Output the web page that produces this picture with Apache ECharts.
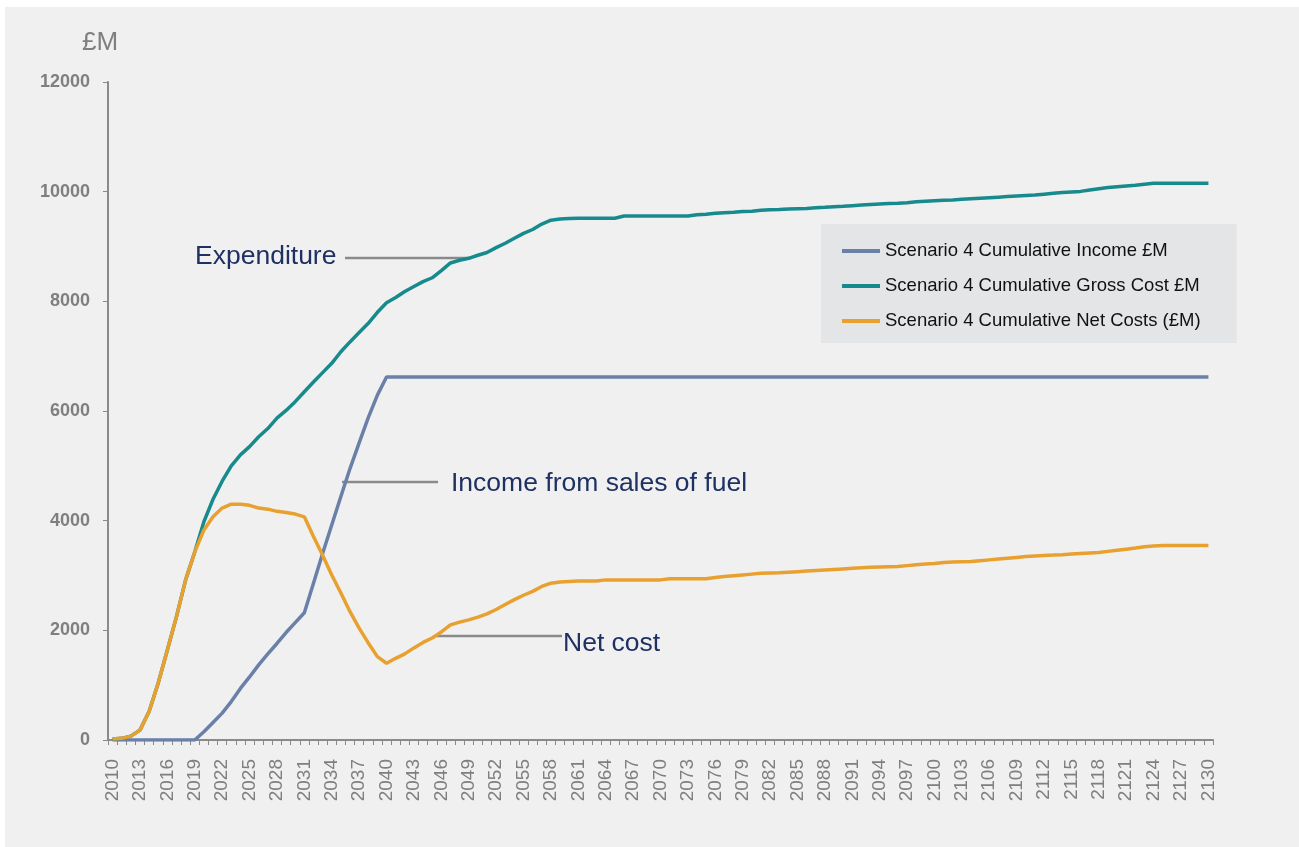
<!DOCTYPE html>
<html>
<head>
<meta charset="utf-8">
<script src="https://cdn.jsdelivr.net/npm/echarts@6/dist/echarts.min.js"></script>
<style>
html,body{margin:0;padding:0;background:#ffffff;width:1299px;height:847px;overflow:hidden;}
#chart{position:absolute;left:5px;top:7px;width:1294px;height:840px;background:#f0f0f0;}
</style>
</head>
<body>
<div id="chart"></div>
<script>
var firstYear = 2010, lastYear = 2130;
var years = [];
for (var y = firstYear; y <= lastYear; y++) years.push(String(y));

var yTicks = [0, 2000, 4000, 6000, 8000, 10000, 12000];

var seriesNames = [
  'Scenario 4 Cumulative Income £M',
  'Scenario 4 Cumulative Gross Cost £M',
  'Scenario 4 Cumulative Net Costs (£M)'
];

var income = [
  0,0,0,0,0,0,0,0,0,0,
  150,320,490,700,940,1150,1370,1570,1760,1960,
  2140,2320,2860,3400,3920,4440,4950,5420,5880,6290,
  6620,6620,6620,6620,6620,6620,6620,6620,6620,6620,
  6620,6620,6620,6620,6620,6620,6620,6620,6620,6620,
  6620,6620,6620,6620,6620,6620,6620,6620,6620,6620,
  6620,6620,6620,6620,6620,6620,6620,6620,6620,6620,
  6620,6620,6620,6620,6620,6620,6620,6620,6620,6620,
  6620,6620,6620,6620,6620,6620,6620,6620,6620,6620,
  6620,6620,6620,6620,6620,6620,6620,6620,6620,6620,
  6620,6620,6620,6620,6620,6620,6620,6620,6620,6620,
  6620,6620,6620,6620,6620,6620,6620,6620,6620,6620,
  6620
];

var grossCost = [
  20,30,70,180,520,1040,1640,2250,2920,3430,
  3980,4390,4720,5000,5200,5350,5530,5680,5870,6010,
  6170,6350,6530,6700,6870,7080,7260,7430,7600,7800,
  7975,8070,8180,8270,8360,8430,8560,8700,8750,8785,
  8840,8890,8980,9060,9150,9240,9310,9410,9480,9500,
  9510,9515,9515,9515,9515,9515,9555,9555,9555,9555,
  9555,9555,9555,9555,9580,9590,9605,9615,9625,9640,
  9645,9660,9670,9675,9685,9690,9695,9705,9715,9726,
  9735,9745,9755,9765,9775,9785,9790,9800,9815,9825,
  9835,9845,9850,9860,9870,9880,9890,9900,9910,9920,
  9930,9940,9955,9970,9985,9995,10005,10030,10055,10075,
  10090,10105,10115,10135,10153,10153,10153,10153,10153,10153,
  10153
];

var netCost = [
  20,30,70,180,520,1040,1640,2250,2920,3430,
  3830,4070,4230,4300,4300,4280,4230,4210,4170,4150,
  4120,4070,3710,3370,3010,2680,2340,2040,1770,1520,
  1400,1490,1570,1680,1780,1860,1970,2100,2150,2190,
  2240,2300,2380,2470,2560,2640,2710,2800,2860,2880,
  2890,2900,2900,2900,2920,2920,2920,2920,2920,2920,
  2920,2940,2940,2940,2940,2940,2965,2980,2995,3010,
  3025,3040,3045,3050,3060,3070,3080,3090,3100,3110,
  3120,3130,3140,3150,3155,3160,3165,3180,3195,3210,
  3220,3235,3245,3250,3255,3270,3285,3300,3315,3330,
  3345,3356,3365,3372,3380,3390,3400,3410,3420,3440,
  3460,3480,3500,3525,3540,3545,3545,3545,3545,3545,
  3545
];

var annotations = ['Expenditure', 'Income from sales of fuel', 'Net cost'];

var colors = ['#6a80a8', '#178a8e', '#e8a02e'];
var navy = '#1f3162';
var grey = '#7f7f7f';
var font = 'Liberation Sans, Arial, sans-serif';

var chart = echarts.init(document.getElementById('chart'), null, {renderer: 'canvas'});

function lineSeries(name, data, color) {
  return {
    name: name, type: 'line', data: data, showSymbol: false, symbol: 'none',
    lineStyle: {color: color, width: 3.5}, itemStyle: {color: color},
    animation: false
  };
}

chart.setOption({
  backgroundColor: '#f0f0f0',
  animation: false,
  color: colors,
  grid: {left: 103, top: 75, width: 1105, height: 658, containLabel: false},
  legend: {
    orient: 'vertical',
    left: 816, top: 217,
    padding: [17, 36, 12, 21],
    backgroundColor: '#e4e5e7',
    itemWidth: 38, itemHeight: 4, itemGap: 15,
    icon: 'rect',
    textStyle: {fontFamily: font, fontSize: 18.5, color: '#111111', lineHeight: 20},
    data: seriesNames
  },
  xAxis: {
    type: 'category', data: years, boundaryGap: true,
    axisLine: {lineStyle: {color: '#8a8a8a', width: 2}},
    axisTick: {show: true, interval: 0, length: 5, lineStyle: {color: '#8a8a8a', width: 1}},
    axisLabel: {interval: 2, rotate: 90, color: grey, fontFamily: font, fontSize: 19, margin: 19},
    splitLine: {show: false}
  },
  yAxis: {
    type: 'value', min: yTicks[0], max: yTicks[yTicks.length - 1], interval: 2000,
    axisLine: {show: true, lineStyle: {color: '#8a8a8a', width: 2}},
    axisTick: {show: true, length: 5, lineStyle: {color: '#8a8a8a', width: 1}},
    axisLabel: {color: grey, fontFamily: font, fontSize: 18, fontWeight: 'bold', margin: 18,
      formatter: function (v) { return String(v); }},
    splitLine: {show: false}
  },
  series: [
    lineSeries(seriesNames[0], income, colors[0]),
    lineSeries(seriesNames[1], grossCost, colors[1]),
    lineSeries(seriesNames[2], netCost, colors[2])
  ],
  graphic: [
    {type: 'text', left: 77, top: 23, style: {text: '£M', fill: grey, font: '26px ' + font}},
    {type: 'text', x: 190, y: 250, style: {text: annotations[0], fill: navy, font: '26.5px ' + font, textVerticalAlign: 'middle'}},
    {type: 'line', shape: {x1: 340, y1: 251, x2: 466, y2: 251}, style: {stroke: '#8a8a8a', lineWidth: 2.5}},
    {type: 'text', x: 446, y: 477, style: {text: annotations[1], fill: navy, font: '26.5px ' + font, textVerticalAlign: 'middle'}},
    {type: 'line', shape: {x1: 337, y1: 475, x2: 433, y2: 475}, style: {stroke: '#8a8a8a', lineWidth: 2.5}},
    {type: 'text', x: 558, y: 637, style: {text: annotations[2], fill: navy, font: '26.5px ' + font, textVerticalAlign: 'middle'}},
    {type: 'line', shape: {x1: 431, y1: 629, x2: 557, y2: 629}, style: {stroke: '#8a8a8a', lineWidth: 2.5}}
  ]
});
</script>
</body>
</html>
